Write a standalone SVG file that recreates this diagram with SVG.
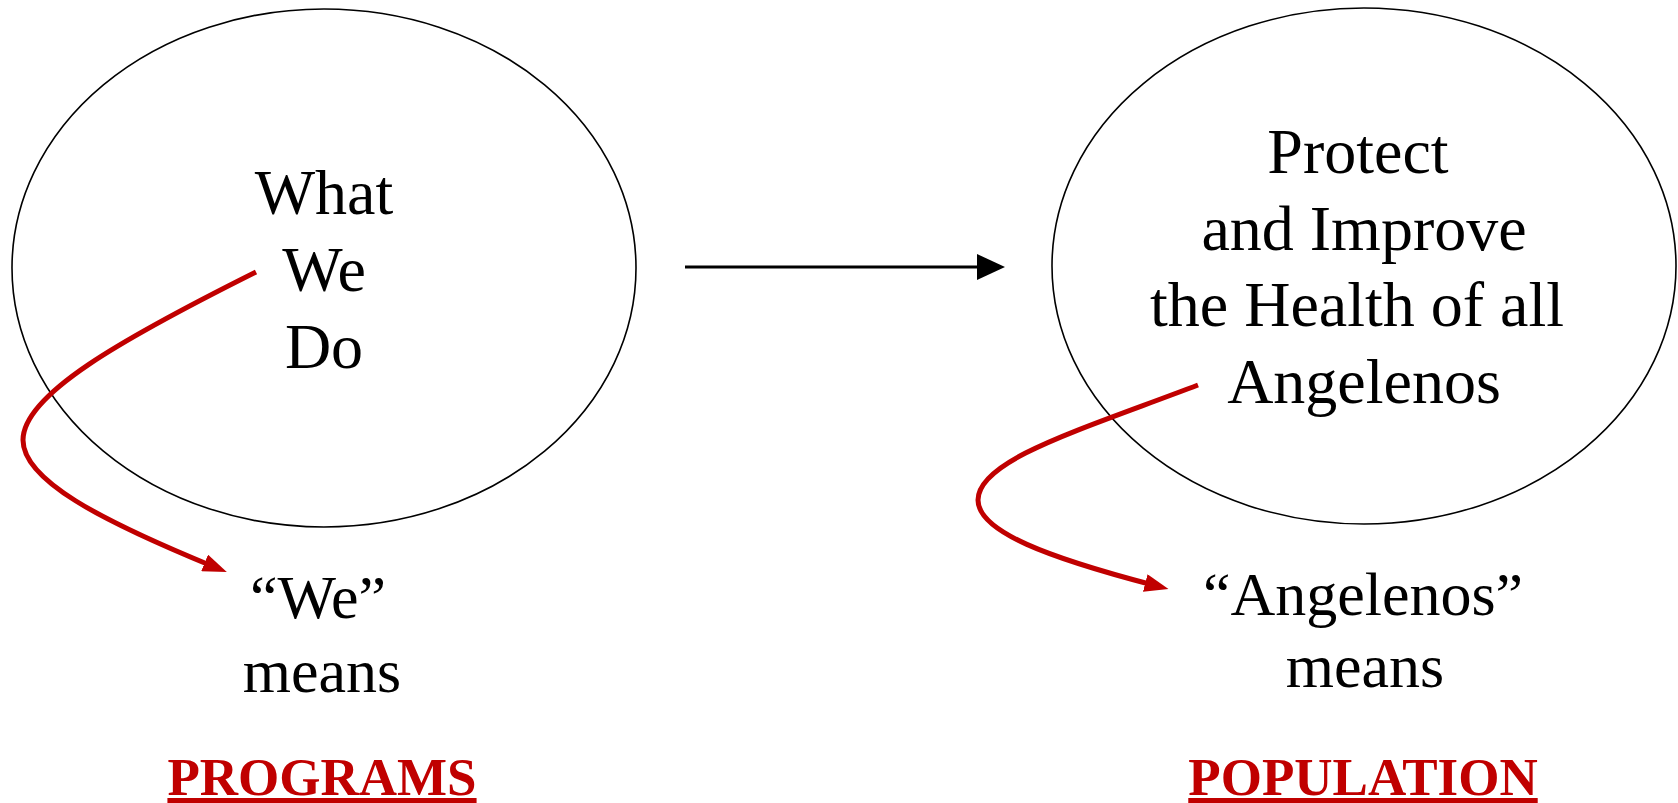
<svg xmlns="http://www.w3.org/2000/svg" width="1678" height="803" viewBox="0 0 1678 803">
<style>
.ell{fill:none;stroke:#000;stroke-width:1.6}
.t{font-family:"Liberation Serif","Times New Roman",serif;font-size:64px;fill:#000;text-anchor:middle}
.b{font-family:"Liberation Serif","Times New Roman",serif;font-size:62px;fill:#000;text-anchor:middle}
.lbl{font-family:"Liberation Serif","Times New Roman",serif;font-size:53px;font-weight:bold;fill:#C00000;text-anchor:middle;text-decoration:underline}
.red{fill:none;stroke:#C00000;stroke-width:5}
.blk{fill:none;stroke:#000;stroke-width:3}
</style>
<defs>
<marker id="ra" markerUnits="userSpaceOnUse" markerWidth="24" markerHeight="18" viewBox="0 0 24 18" refX="8" refY="9" orient="auto">
<path d="M0,0 L24,9 L0,18 z" fill="#C00000"/>
</marker>
<marker id="ba" markerUnits="userSpaceOnUse" markerWidth="28" markerHeight="26" viewBox="0 0 28 26" refX="2" refY="13" orient="auto">
<path d="M0,0 L28,13 L0,26 z" fill="#000"/>
</marker>
</defs>
<rect width="1678" height="803" fill="#fff"/>
<g id="node-programs">
<ellipse class="ell" cx="324" cy="268" rx="312" ry="259"/>
<text class="t" x="324" y="214">What</text>
<text class="t" x="324" y="291">We</text>
<text class="t" x="324" y="368">Do</text>
</g>
<g id="node-population">
<ellipse class="ell" cx="1364" cy="266" rx="312" ry="258"/>
<text class="t" x="1358" y="173">Protect</text>
<text class="t" x="1364" y="250">and Improve</text>
<text class="t" x="1357" y="326">the Health of all</text>
<text class="t" x="1364" y="403">Angelenos</text>
</g>
<g id="label-we">
<text class="b" x="318" y="618">“We”</text>
<text class="b" x="322" y="692">means</text>
</g>
<g id="label-angelenos">
<text class="b" x="1363" y="615">“Angelenos”</text>
<text class="b" x="1365" y="687">means</text>
</g>
<g id="title-programs">
<text class="lbl" x="322" y="795">PROGRAMS</text>
</g>
<g id="title-population">
<text class="lbl" x="1363" y="795">POPULATION</text>
</g>
<g id="connectors">
<path class="blk" d="M685,267 L979,267" marker-end="url(#ba)"/>
<path class="red" d="M256,272 C120,340 23,395 23,440 C23,480 100,520 212,566" marker-end="url(#ra)"/>
<path class="red" d="M1198,385 C1080,430 978,460 978,500 C978,532 1050,558 1153,585" marker-end="url(#ra)"/>
</g>
</svg>
